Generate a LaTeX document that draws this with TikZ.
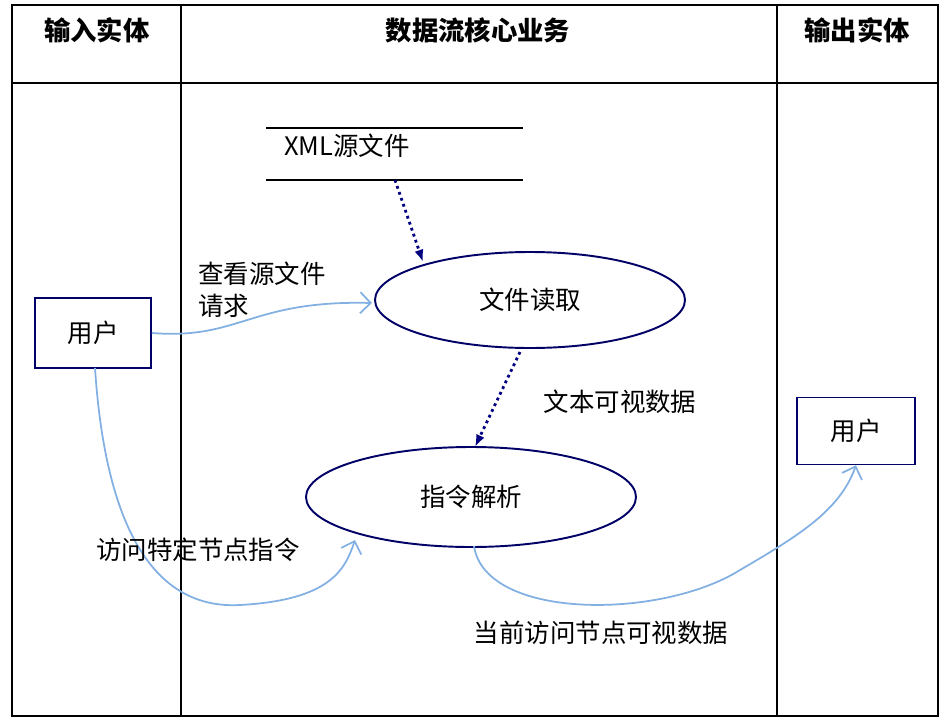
\documentclass[tikz,border=0pt]{standalone}
\usepackage{fontspec}
\setmainfont{Noto Sans CJK SC}
\usetikzlibrary{arrows.meta,shapes.geometric}
\begin{document}
\begin{tikzpicture}[x=0.02cm,y=-0.02cm,
  frame/.style={line width=0.9pt,black},
  hdr/.style={font=\bfseries\fontsize{15}{17}\selectfont},
  lbl/.style={font=\fontsize{14.5}{18}\selectfont,align=left},
  proc/.style={draw=black!60!blue,line width=1.1pt},
  ent/.style={draw=black!60!blue,line width=0.9pt,fill=white},
  dotarr/.style={draw=blue!50!black,line width=1.6pt,dotted,-{Latex[length=7pt]}},
  flow/.style={draw=cyan!60!blue!50,line width=1pt,-{Straight Barb[length=6pt]}}]
\useasboundingbox (0,0) rectangle (944,724);
\draw[frame] (12,5) rectangle (938,716);
\draw[frame] (12,83) -- (938,83);
\draw[frame] (181,5) -- (181,716);
\draw[frame] (777,5) -- (777,716);
\node[hdr] (h1) at (97,30) {输入实体};
\node[hdr] (h2) at (478,30) {数据流核心业务};
\node[hdr] (h3) at (857,30) {输出实体};
\draw[line width=0.9pt] (266,128) -- (523,128);
\draw[line width=0.9pt] (266,180) -- (523,180);
\node[lbl,anchor=west] (store) at (278,146) {XML源文件};
\coordinate (storeb) at (395,180);
\draw[proc] (530,300) ellipse [x radius=155,y radius=48];
\node[lbl] (read) at (530,300) {文件读取};
\draw[proc] (471,497) ellipse [x radius=165,y radius=50];
\node[lbl] (parse) at (471,497) {指令解析};
\node[ent,minimum width=116*0.02cm,minimum height=70*0.02cm,lbl] (u1) at (93,333) {用户};
\node[ent,minimum width=118*0.02cm,minimum height=67*0.02cm,lbl] (u2) at (856,431) {用户};
\coordinate (rtop) at (423,262);
\coordinate (rbot) at (520,352);
\coordinate (ptop) at (475,447);
\draw[dotarr] (storeb) -- (rtop);
\draw[dotarr] (rbot) -- (ptop);
\coordinate (rin) at (372,303);
\draw[flow] (u1.east) .. controls (240,340) and (250,300) .. (rin);
\coordinate (u1b) at (95,368);
\coordinate (pin) at (355,540);
\draw[flow] (u1b) .. controls (105,520) and (150,610) .. (240,605) .. controls (330,600) and (345,570) .. (pin);
\coordinate (pout) at (474,546);
\draw[flow] (pout) .. controls (485,620) and (660,620) .. (740,570) .. controls (800,535) and (840,510) .. (u2.south);
\node[lbl,anchor=north west] (l1) at (192,256) {查看源文件\\请求};
\node[lbl] (l2) at (620,402) {文本可视数据};
\node[lbl] (l3) at (198,550) {访问特定节点指令};
\node[lbl] (l4) at (601,633) {当前访问节点可视数据};
\end{tikzpicture}
\end{document}
